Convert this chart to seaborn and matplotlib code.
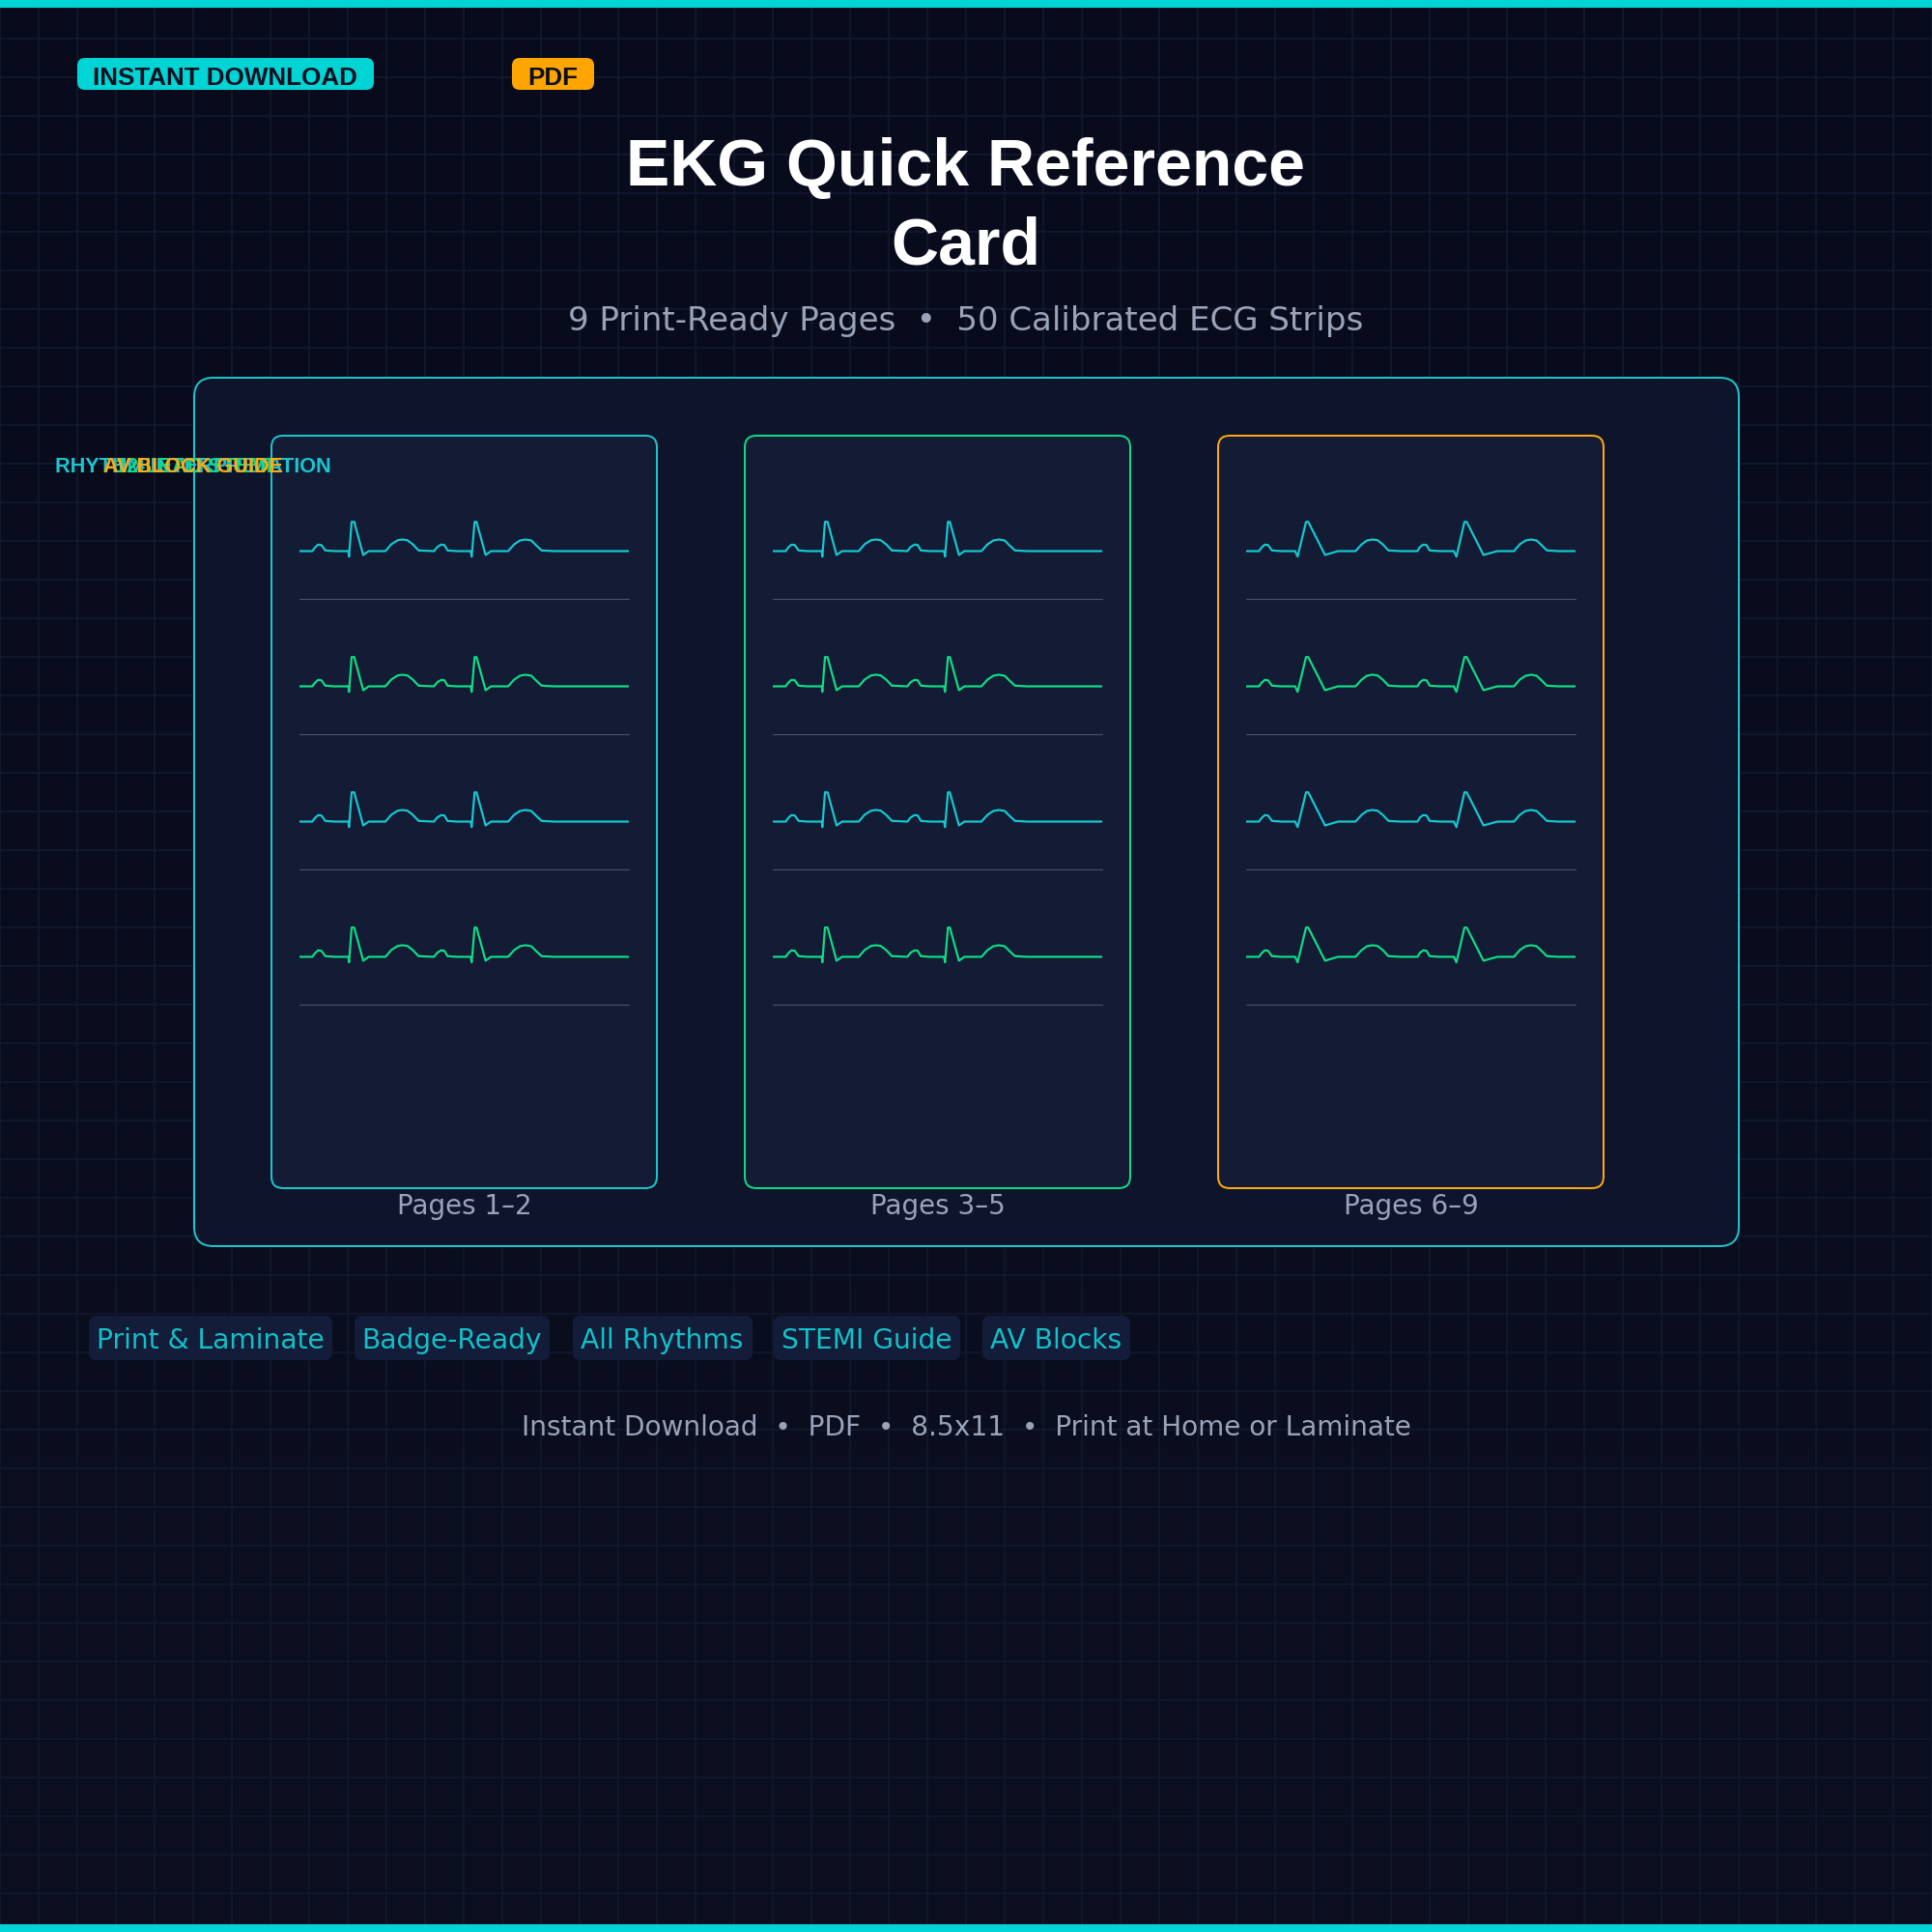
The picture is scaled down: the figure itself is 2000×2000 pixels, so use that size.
import matplotlib
matplotlib.use("Agg")
import numpy as np
import matplotlib.pyplot as plt
import seaborn as sns
from matplotlib.patches import FancyBboxPatch, Rectangle

# strip values, px along the strip / px above the baseline
NARROW_T = [0, 13.3, 16, 19.3, 22.7, 26.7, 36, 50.7, 51.3, 54, 56.7, 66, 71.7,
            89, 95, 101.7, 106.7, 111.7, 117.3, 123.3, 139.3, 142.7, 146.7, 150, 153.3, 162.7,
            177.3, 178.3, 181.3, 183.3, 192.7, 198.3, 216, 222.3, 228.3, 234, 240, 245, 250.7, 263.3, 340.7]
NARROW_V = [0, 0, 3.7, 6.7, 6.3, 0.7, 0, 0, -5.7, 30.3, 30.3, -4, 0,
            0, 7, 11.3, 12, 11.3, 7, 0.7, 0, 4.3, 6.7, 6.3, 0.7, 0,
            0, -5.7, 30.3, 30.3, -4, 0, 0, 7, 11, 12, 11, 6, 0.7, 0, 0]
WIDE_T = [0, 13.3, 16, 19.3, 22.7, 26.7, 36, 50.7, 53.3, 62, 64.3, 81.7, 95,
          113.3, 119.3, 125, 130.7, 136, 141.7, 147.3, 160, 177.3, 180, 183.3, 186.7, 190,
          200, 215, 217.7, 226, 228.3, 245.7, 260, 277.3, 283.3, 289.3, 295, 300.7, 306, 311.3, 323.3, 340.7]
WIDE_V = [0, 0, 3.7, 6.7, 6.3, 0.7, 0, 0, -5.7, 30.3, 30.3, -4, 0,
          0, 6.7, 11, 12, 11.3, 6.7, 0.7, 0, 0, 4.3, 6.7, 6.3, 0.7,
          0, 0, -5.7, 30.3, 30.3, -4, 0, 0, 7, 11, 12, 11, 6, 0.7, 0, 0]

CARD_CAPTIONS = ["Pages 1–2", "Pages 3–5", "Pages 6–9"]
CARD_TITLES = ["RHYTHM INTERPRETATION", "12-LEAD STEMI", "AV BLOCK GUIDE"]
CARD_COLORS = ["#1cc5cd", "#10d98a", "#ffa914"]
STRIP_COLORS = ["#15c8d0", "#0fdc85", "#15c8d0", "#0fdc85"]
TAGS = ["Print & Laminate", "Badge-Ready", "All Rhythms", "STEMI Guide", "AV Blocks"]
TAG_LEFT = [92, 367, 593, 801, 1017]
TAG_RIGHT = [344, 569, 779, 994, 1170]

TEAL = "#00d4d4"
ORANGE = "#ffa500"
GREY = "#9aa3b8"
PX = 72 / 200  # points per pixel at dpi 200

sns.set_theme(style="dark")
plt.rcParams["font.family"] = ["DejaVu Sans"]

fig = plt.figure(figsize=(10, 10), dpi=200)
ax = fig.add_axes([0, 0, 1, 1])
ax.set_xlim(0, 2000)
ax.set_ylim(2000, 0)
ax.axis("off")

# background gradient and grid
grad = np.linspace(0, 1, 256).reshape(-1, 1)
top, bottom = np.array([8, 11, 28]) / 255, np.array([11, 15, 32]) / 255
ax.imshow(top + grad[..., None] * (bottom - top), extent=(0, 2000, 2000, 0), aspect="auto", zorder=0)
for gx in range(0, 2001, 40):
    ax.axvline(gx, color="#13192e", lw=1.7 * PX, zorder=1)
for gy in range(0, 2001, 40):
    ax.axhline(gy, color="#13192e", lw=1.7 * PX, zorder=1)
ax.add_patch(Rectangle((0, 0), 2000, 8, color=TEAL, lw=0, zorder=2))
ax.add_patch(Rectangle((0, 1992), 2000, 8, color=TEAL, lw=0, zorder=2))


def box(x0, y0, x1, y1, r, fc, ec=None, lw=2, z=3):
    ax.add_patch(FancyBboxPatch((x0 + r, y0 + r), x1 - x0 - 2 * r, y1 - y0 - 2 * r,
                                boxstyle=f"round,pad={r},rounding_size={r}",
                                fc=fc, ec=ec or "none", lw=lw * PX if ec else 0, zorder=z))


def label(x, y, s, px, color, ha="center", bold=False, z=6):
    fam = "Liberation Sans" if bold else "DejaVu Sans"
    ax.text(x, y, s, fontsize=px * PX, color=color, ha=ha, va="baseline", family=fam,
            fontweight="bold" if bold else "normal", zorder=z)


# header
box(80, 60, 387, 93, 8, TEAL)
label(233, 88, "INSTANT DOWNLOAD", 26, "#0a0f20", bold=True)
box(530, 60, 615, 93, 8, ORANGE)
label(572, 88, "PDF", 26, "#0a0f20", bold=True)
label(1000, 192, "EKG Quick Reference", 68, "white", bold=True)
label(1000, 273, "Card", 68, "white", bold=True)
label(1000, 342, "9 Print-Ready Pages  •  50 Calibrated ECG Strips", 34, GREY)

# panel and cards
box(201, 391, 1800, 1290, 20, "#0e1429", "#1cc5cd")
for i, left in enumerate([281, 771, 1261]):
    box(left, 451, left + 399, 1230, 12, "#131b35", CARD_COLORS[i], z=4)
    label(left + 199.5, 1257, CARD_CAPTIONS[i], 27.8, GREY)
    label(200, 489, CARD_TITLES[i], 21.6, CARD_COLORS[i], bold=True, z=7)
    t, v = (WIDE_T, WIDE_V) if i == 2 else (NARROW_T, NARROW_V)
    for r, base in enumerate([570, 710, 850, 990]):
        # one axes for each strip, 1 data unit = 1 px
        sx = fig.add_axes([(left + 29) / 2000, 1 - (base + 20) / 2000, 341 / 2000, 60 / 2000])
        sx.patch.set_alpha(0)
        sns.lineplot(x=t, y=v, ax=sx, color=STRIP_COLORS[r], lw=2.2 * PX, estimator=None, sort=False)
        sx.set_xlim(0, 341)
        sx.set_ylim(-19.5, 40.5)
        sx.axis("off")
        ax.plot([left + 29, left + 370], [base + 50, base + 50], color="#4a5066", lw=1.2 * PX, zorder=5)

# tag chips
for s, x0, x1 in zip(TAGS, TAG_LEFT, TAG_RIGHT):
    box(x0, 1362, x1, 1408, 8, "#131c38")
    label((x0 + x1) / 2 - 0.5, 1396, s, 28.1, "#12c0c8")

label(1000, 1486, "Instant Download  •  PDF  •  8.5x11  •  Print at Home or Laminate", 28, GREY)

fig.savefig("out.png", dpi=200)
